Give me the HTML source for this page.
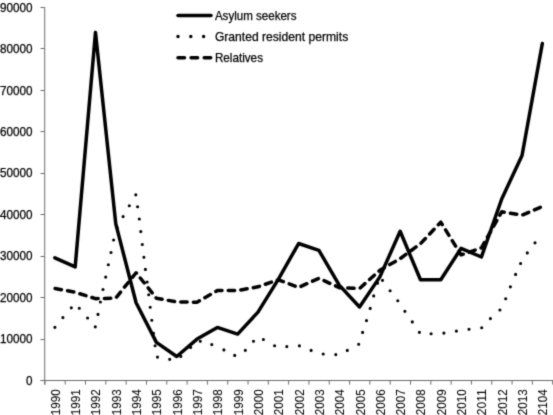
<!DOCTYPE html>
<html><head><meta charset="utf-8"><style>
html,body{margin:0;padding:0;background:#fff;}
body{width:553px;height:415px;overflow:hidden;}
svg{display:block;}
.t{font-family:"Liberation Sans",sans-serif;font-size:12.2px;fill:#000;stroke:#000;stroke-width:0.25px;}
.xl{stroke-width:0.05px;}
</style></head><body>
<svg width="553" height="415" viewBox="0 0 553 415">
<defs><filter id="b" x="0" y="0" width="553" height="415" filterUnits="userSpaceOnUse" color-interpolation-filters="sRGB"><feConvolveMatrix order="3" kernelMatrix="0.0225 0.105 0.0225 0.105 0.49 0.105 0.0225 0.105 0.0225" edgeMode="duplicate" preserveAlpha="false"/></filter></defs>
<rect width="553" height="415" fill="#fff"/>
<g filter="url(#b)">
<path d="M44.7 7V384.6" stroke="#6c6c6c" stroke-width="1" fill="none"/>
<path d="M40.5 380.5H553" stroke="#6c6c6c" stroke-width="1" fill="none"/>
<path d="M40.5 380.5H44.7 M40.5 339.5H44.7 M40.5 297.5H44.7 M40.5 256.5H44.7 M40.5 214.5H44.7 M40.5 173.5H44.7 M40.5 131.5H44.7 M40.5 90.5H44.7 M40.5 48.5H44.7 M40.5 7.5H44.7 M44.90 380.5V384.6 M65.21 380.5V384.6 M85.52 380.5V384.6 M105.84 380.5V384.6 M126.15 380.5V384.6 M146.46 380.5V384.6 M166.77 380.5V384.6 M187.08 380.5V384.6 M207.40 380.5V384.6 M227.71 380.5V384.6 M248.02 380.5V384.6 M268.33 380.5V384.6 M288.64 380.5V384.6 M308.96 380.5V384.6 M329.27 380.5V384.6 M349.58 380.5V384.6 M369.89 380.5V384.6 M390.20 380.5V384.6 M410.52 380.5V384.6 M430.83 380.5V384.6 M451.14 380.5V384.6 M471.45 380.5V384.6 M491.76 380.5V384.6 M512.08 380.5V384.6 M532.39 380.5V384.6 M552.70 380.5V384.6" stroke="#6c6c6c" stroke-width="1" fill="none"/>
<text x="32.6" y="384.65" text-anchor="end" class="t" textLength="6.50" lengthAdjust="spacingAndGlyphs">0</text>
<text x="32.6" y="343.21" text-anchor="end" class="t" textLength="32.52" lengthAdjust="spacingAndGlyphs">10000</text>
<text x="32.6" y="301.76" text-anchor="end" class="t" textLength="32.52" lengthAdjust="spacingAndGlyphs">20000</text>
<text x="32.6" y="260.32" text-anchor="end" class="t" textLength="32.52" lengthAdjust="spacingAndGlyphs">30000</text>
<text x="32.6" y="218.87" text-anchor="end" class="t" textLength="32.52" lengthAdjust="spacingAndGlyphs">40000</text>
<text x="32.6" y="177.43" text-anchor="end" class="t" textLength="32.52" lengthAdjust="spacingAndGlyphs">50000</text>
<text x="32.6" y="135.98" text-anchor="end" class="t" textLength="32.52" lengthAdjust="spacingAndGlyphs">60000</text>
<text x="32.6" y="94.54" text-anchor="end" class="t" textLength="32.52" lengthAdjust="spacingAndGlyphs">70000</text>
<text x="32.6" y="53.09" text-anchor="end" class="t" textLength="32.52" lengthAdjust="spacingAndGlyphs">80000</text>
<text x="32.6" y="11.65" text-anchor="end" class="t" textLength="32.52" lengthAdjust="spacingAndGlyphs">90000</text>
<text transform="translate(59.86,389.2) rotate(-90)" text-anchor="end" class="t xl" textLength="26.02" lengthAdjust="spacingAndGlyphs">1990</text>
<text transform="translate(80.17,389.2) rotate(-90)" text-anchor="end" class="t xl" textLength="26.02" lengthAdjust="spacingAndGlyphs">1991</text>
<text transform="translate(100.48,389.2) rotate(-90)" text-anchor="end" class="t xl" textLength="26.02" lengthAdjust="spacingAndGlyphs">1992</text>
<text transform="translate(120.79,389.2) rotate(-90)" text-anchor="end" class="t xl" textLength="26.02" lengthAdjust="spacingAndGlyphs">1993</text>
<text transform="translate(141.10,389.2) rotate(-90)" text-anchor="end" class="t xl" textLength="26.02" lengthAdjust="spacingAndGlyphs">1994</text>
<text transform="translate(161.42,389.2) rotate(-90)" text-anchor="end" class="t xl" textLength="26.02" lengthAdjust="spacingAndGlyphs">1995</text>
<text transform="translate(181.73,389.2) rotate(-90)" text-anchor="end" class="t xl" textLength="26.02" lengthAdjust="spacingAndGlyphs">1996</text>
<text transform="translate(202.04,389.2) rotate(-90)" text-anchor="end" class="t xl" textLength="26.02" lengthAdjust="spacingAndGlyphs">1997</text>
<text transform="translate(222.35,389.2) rotate(-90)" text-anchor="end" class="t xl" textLength="26.02" lengthAdjust="spacingAndGlyphs">1998</text>
<text transform="translate(242.66,389.2) rotate(-90)" text-anchor="end" class="t xl" textLength="26.02" lengthAdjust="spacingAndGlyphs">1999</text>
<text transform="translate(262.98,389.2) rotate(-90)" text-anchor="end" class="t xl" textLength="26.02" lengthAdjust="spacingAndGlyphs">2000</text>
<text transform="translate(283.29,389.2) rotate(-90)" text-anchor="end" class="t xl" textLength="26.02" lengthAdjust="spacingAndGlyphs">2001</text>
<text transform="translate(303.60,389.2) rotate(-90)" text-anchor="end" class="t xl" textLength="26.02" lengthAdjust="spacingAndGlyphs">2002</text>
<text transform="translate(323.91,389.2) rotate(-90)" text-anchor="end" class="t xl" textLength="26.02" lengthAdjust="spacingAndGlyphs">2003</text>
<text transform="translate(344.22,389.2) rotate(-90)" text-anchor="end" class="t xl" textLength="26.02" lengthAdjust="spacingAndGlyphs">2004</text>
<text transform="translate(364.54,389.2) rotate(-90)" text-anchor="end" class="t xl" textLength="26.02" lengthAdjust="spacingAndGlyphs">2005</text>
<text transform="translate(384.85,389.2) rotate(-90)" text-anchor="end" class="t xl" textLength="26.02" lengthAdjust="spacingAndGlyphs">2006</text>
<text transform="translate(405.16,389.2) rotate(-90)" text-anchor="end" class="t xl" textLength="26.02" lengthAdjust="spacingAndGlyphs">2007</text>
<text transform="translate(425.47,389.2) rotate(-90)" text-anchor="end" class="t xl" textLength="26.02" lengthAdjust="spacingAndGlyphs">2008</text>
<text transform="translate(445.78,389.2) rotate(-90)" text-anchor="end" class="t xl" textLength="26.02" lengthAdjust="spacingAndGlyphs">2009</text>
<text transform="translate(466.10,389.2) rotate(-90)" text-anchor="end" class="t xl" textLength="26.02" lengthAdjust="spacingAndGlyphs">2010</text>
<text transform="translate(486.41,389.2) rotate(-90)" text-anchor="end" class="t xl" textLength="26.02" lengthAdjust="spacingAndGlyphs">2011</text>
<text transform="translate(506.72,389.2) rotate(-90)" text-anchor="end" class="t xl" textLength="26.02" lengthAdjust="spacingAndGlyphs">2012</text>
<text transform="translate(527.03,389.2) rotate(-90)" text-anchor="end" class="t xl" textLength="26.02" lengthAdjust="spacingAndGlyphs">2013</text>
<text transform="translate(547.34,389.2) rotate(-90)" text-anchor="end" class="t xl" textLength="26.02" lengthAdjust="spacingAndGlyphs">2104</text>
<polyline points="54.86,257.82 75.17,266.94 95.48,32.37 115.79,223.84 136.10,302.79 156.42,342.37 176.73,356.46 197.04,339.06 217.35,327.45 237.66,334.08 257.98,312.12 278.29,279.38 298.60,243.53 318.91,250.36 339.22,285.18 359.54,306.94 379.85,276.89 400.16,231.30 420.47,279.79 440.78,279.79 461.10,248.29 481.41,257.00 501.72,198.97 522.03,155.46 542.34,43.56" fill="none" stroke="#000" stroke-width="3.5" stroke-linejoin="round" stroke-linecap="round"/>
<path d="M54.9 327.3h0M62.9 317.6h0M71.3 307.8h0M79.3 308.2h0M87.6 318.0h0M95.3 326.8h0M98.0 314.4h0M100.4 302.0h0M103.0 289.5h0M105.7 277.1h0M108.3 264.7h0M111.0 252.5h0M113.6 240.0h0M117.2 227.9h0M123.1 216.6h0M129.3 205.7h0M135.8 194.8h0M137.6 206.7h0M139.3 219.0h0M140.8 231.6h0M142.3 244.5h0M143.9 257.2h0M145.4 269.4h0M147.1 282.0h0M148.7 294.7h0M150.2 307.2h0M151.8 320.2h0M153.5 333.2h0M155.1 345.7h0M157.5 357.1h0M169.7 359.3h0M180.8 356.4h0M190.6 347.4h0M200.3 341.2h0M211.8 344.6h0M223.9 349.9h0M234.7 355.4h0M245.3 350.3h0M253.5 341.2h0M263.4 339.5h0M274.6 345.7h0M286.8 346.6h0M299.4 345.8h0M311.1 350.4h0M323.2 354.0h0M335.8 354.6h0M347.3 350.4h0M358.7 344.2h0M362.6 332.4h0M366.5 320.6h0M370.2 308.4h0M373.7 295.9h0M377.6 283.2h0M382.5 280.3h0M390.1 290.7h0M397.8 300.7h0M404.9 311.3h0M412.3 321.9h0M419.4 332.3h0M431.1 333.7h0M443.9 333.1h0M456.4 331.1h0M469.0 329.2h0M481.7 327.7h0M490.4 318.6h0M499.9 310.0h0M505.7 298.7h0M510.4 286.8h0M515.6 274.4h0M520.6 263.5h0M527.3 252.9h0M535.0 242.8h0" fill="none" stroke="#000" stroke-width="3.15" stroke-linecap="round"/>
<polyline points="54.86,288.49 75.17,292.22 95.48,298.65 115.79,298.03 136.10,272.74 156.42,298.23 176.73,301.96 197.04,302.17 217.35,290.57 237.66,290.57 257.98,286.84 278.29,279.79 298.60,287.37 318.91,278.30 339.22,287.66 359.54,288.49 379.85,270.26 400.16,258.65 420.47,243.73 440.78,222.18 461.10,254.92 481.41,247.88 501.72,211.82 522.03,215.14 542.34,206.43" fill="none" stroke="#000" stroke-width="3.5" stroke-linejoin="round" stroke-linecap="round" stroke-dasharray="6.4 6.24" stroke-dashoffset="-0.3"/>
<path d="M178 15.4H211" stroke="#000" stroke-width="3.5" stroke-linecap="round"/>
<path d="M178 36.5H211" stroke="#000" stroke-width="3.5" stroke-linecap="round" stroke-dasharray="0 12.8"/>
<path d="M178 57.8H211" stroke="#000" stroke-width="3.5" stroke-linecap="round" stroke-dasharray="6.5 6.6"/>
<text x="214.9" y="19.6" class="t" textLength="81.6" lengthAdjust="spacingAndGlyphs">Asylum seekers</text>
<text x="214.9" y="40.6" class="t" textLength="133.3" lengthAdjust="spacingAndGlyphs">Granted resident permits</text>
<text x="214.9" y="61.5" class="t" textLength="48.08" lengthAdjust="spacingAndGlyphs">Relatives</text>
</g>
</svg>
</body></html>
